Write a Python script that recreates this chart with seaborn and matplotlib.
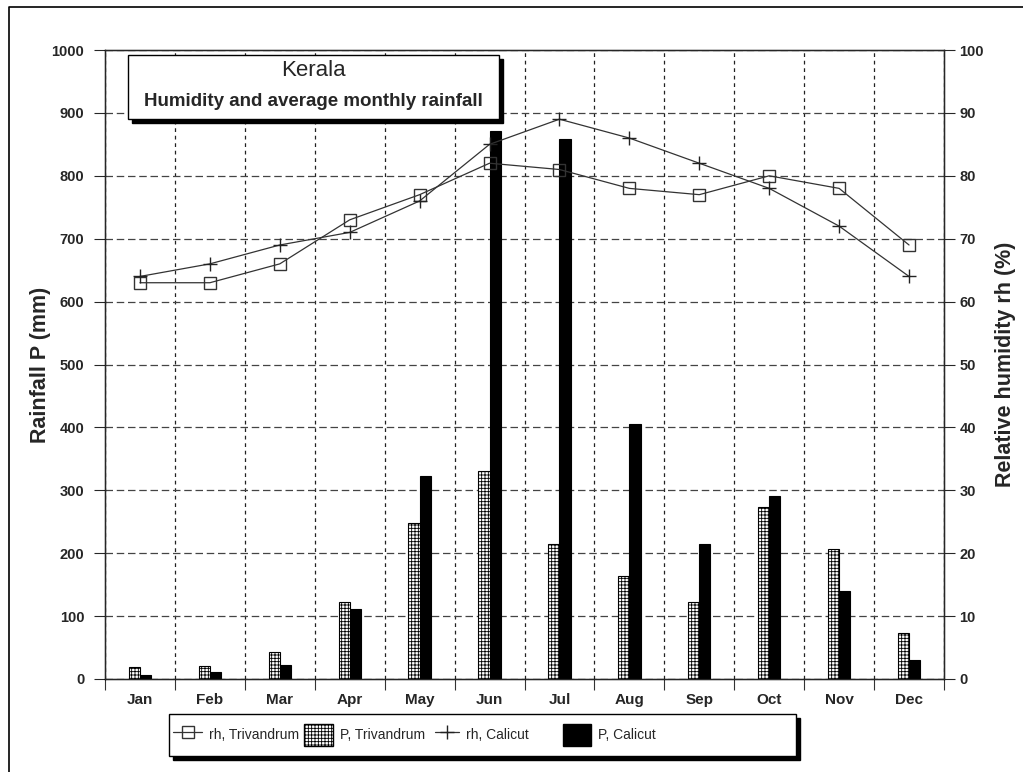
import matplotlib
matplotlib.use("Agg")
import matplotlib.pyplot as plt
from matplotlib.patches import Rectangle, Patch
from matplotlib.lines import Line2D
import seaborn as sns
import pandas as pd
import numpy as np

months = ["Jan", "Feb", "Mar", "Apr", "May", "Jun",
          "Jul", "Aug", "Sep", "Oct", "Nov", "Dec"]

# monthly rainfall (mm)
rain_trivandrum = [19, 20, 43, 122, 248, 331, 215, 164, 122, 273, 207, 73]
rain_calicut = [6, 11, 22, 111, 323, 871, 858, 405, 215, 291, 140, 30]

# relative humidity (%)
rh_trivandrum = [63, 63, 66, 73, 77, 82, 81, 78, 77, 80, 78, 69]
rh_calicut = [64, 66, 69, 71, 76, 85, 89, 86, 82, 78, 72, 64]

stations = ["Trivandrum", "Calicut"]
legend_labels = ["rh, Trivandrum", "P, Trivandrum", "rh, Calicut", "P, Calicut"]

W, H = 1023, 772

sns.set_style("ticks")
plt.rcParams['font.family'] = ['Liberation Sans', 'DejaVu Sans']
plt.rcParams['hatch.linewidth'] = 0.6
plt.rcParams['hatch.color'] = 'black'

rain_df = pd.DataFrame({
    "month": months * 2,
    "station": [stations[0]] * 12 + [stations[1]] * 12,
    "rain": rain_trivandrum + rain_calicut,
})

fig = plt.figure(figsize=(W / 100, H / 100), dpi=100)
ax = fig.add_axes([105 / W, 1 - 679 / H, 839 / W, 629 / H])

sns.barplot(data=rain_df, x="month", y="rain", hue="station",
            hue_order=stations, order=months, width=0.32,
            palette=["white", "black"], edgecolor="black", linewidth=0.8,
            saturation=1, legend=False, ax=ax)

for bar in ax.containers[0]:
    bar.set_facecolor("white")
    bar.set_hatch("+++++")
for bar in ax.containers[1]:
    bar.set_facecolor("black")

ax.set_xlim(-0.5, 11.5)
ax.set_ylim(0, 1000)
ax.set_yticks(np.arange(0, 1001, 100))
ax.set_xticks(np.arange(12))
ax.set_xticklabels(months, fontsize=11, fontweight="bold")
ax.set_xticks(np.arange(-0.5, 12, 1), minor=True)
ax.tick_params(axis="x", which="major", length=0, pad=10)
ax.tick_params(axis="x", which="minor", length=8, width=0.8,
               direction="out", color="#333333")
ax.tick_params(axis="y", length=8, width=0.8, labelsize=10.5, pad=7)
for t in ax.get_yticklabels():
    t.set_fontweight("bold")
ax.set_xlabel("")
ax.set_ylabel("Rainfall P (mm)", fontsize=15.5, fontweight="bold", labelpad=0)

ax.yaxis.grid(True, linestyle=(0, (6, 3)), color="#444444", linewidth=0.9)
ax.xaxis.grid(True, which="minor", linestyle=(0, (3, 3)), color="#222222",
              linewidth=0.9)
ax.xaxis.grid(False, which="major")
ax.set_axisbelow(True)
for s in ax.spines.values():
    s.set_linewidth(1.0)
    s.set_color("black")

ax2 = ax.twinx()
x = np.arange(12)
sns.lineplot(x=x, y=rh_trivandrum, ax=ax2, color="#333333", linewidth=0.9,
             marker="s", markersize=9, markerfacecolor="none",
             markeredgecolor="#333333", markeredgewidth=1.0)
sns.lineplot(x=x, y=rh_calicut, ax=ax2, color="#333333", linewidth=0.9,
             marker="+", markersize=10, markeredgecolor="#222222",
             markeredgewidth=1.0)
ax2.set_ylim(0, 100)
ax2.set_yticks(np.arange(0, 101, 10))
ax2.tick_params(axis="y", length=8, width=0.8, labelsize=10.5, pad=3)
for t in ax2.get_yticklabels():
    t.set_fontweight("bold")
ax2.set_ylabel("Relative humidity rh (%)", fontsize=15.5, fontweight="bold",
               labelpad=8)
ax2.set_xlim(-0.5, 11.5)

# title box with shadow
bx, by, bw, bh = 128 / W, 1 - 119 / H, 371 / W, 64 / H
fig.add_artist(Rectangle((bx + 4 / W, by - 4 / H), bw, bh,
                         transform=fig.transFigure, facecolor="black",
                         edgecolor="black", zorder=10))
fig.add_artist(Rectangle((bx, by), bw, bh, transform=fig.transFigure,
                         facecolor="white", edgecolor="black",
                         linewidth=1.0, zorder=11))
fig.text(bx + bw / 2, 1 - 71 / H, "Kerala", ha="center", va="center",
         fontsize=16, zorder=12)
fig.text(bx + bw / 2, 1 - 101 / H, "Humidity and average monthly rainfall",
         ha="center", va="center", fontsize=13.5, fontweight="bold", zorder=12)

# legend frame with shadow
lx, ly, lw, lh = 169 / W, 1 - 756 / H, 627 / W, 42 / H
fig.add_artist(Rectangle((lx + 4 / W, ly - 4 / H), lw, lh,
                         transform=fig.transFigure, facecolor="black",
                         edgecolor="black", zorder=10))
fig.add_artist(Rectangle((lx, ly), lw, lh, transform=fig.transFigure,
                         facecolor="white", edgecolor="black",
                         linewidth=1.0, zorder=11))

handles = [
    Line2D([], [], color="#333333", linewidth=0.9, marker="s", markersize=9,
           markerfacecolor="none", markeredgecolor="#333333"),
    Patch(facecolor="white", edgecolor="black", hatch="+++++"),
    Line2D([], [], color="#333333", linewidth=0.9, marker="+", markersize=10,
           markeredgecolor="#222222"),
    Patch(facecolor="black", edgecolor="black"),
]
entry_x = [173, 304, 435, 563]
handle_len = [2.1, 2.1, 1.7, 2.0]
for h, lab, ex, hl in zip(handles, legend_labels, entry_x, handle_len):
    lg = fig.legend([h], [lab], loc="center left",
                    bbox_to_anchor=(ex / W, 1 - 735 / H),
                    frameon=False, fontsize=10, handlelength=hl,
                    handleheight=1.95, handletextpad=0.5,
                    borderpad=0, borderaxespad=0)
    lg.set_zorder(12)

# outer frame (left and top only visible)
fig.add_artist(Line2D([9 / W, 9 / W, 1.0], [0.0, 1 - 7 / H, 1 - 7 / H],
                      transform=fig.transFigure, color="black", linewidth=1.2))

fig.savefig("out.png", dpi=100)
plt.close(fig)
